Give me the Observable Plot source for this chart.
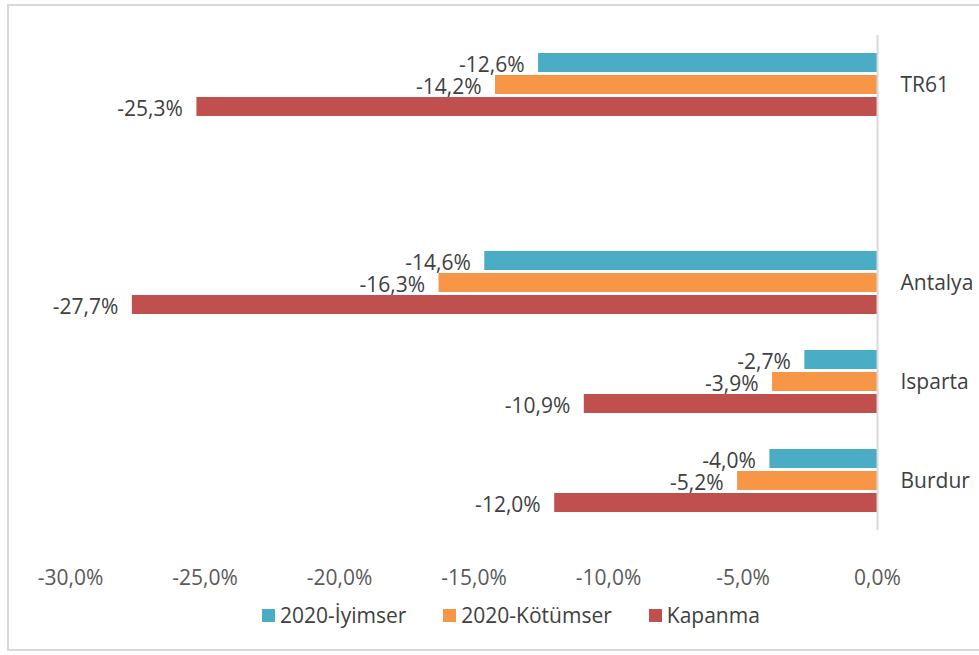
<!DOCTYPE html>
<html>
<head>
<meta charset="utf-8">
<script src="https://cdn.jsdelivr.net/npm/d3@7"></script>
<script src="https://cdn.jsdelivr.net/npm/@observablehq/plot@0.6"></script>
<style>
  html, body { margin: 0; padding: 0; background: #fff; }
  #wrap { position: relative; width: 979px; height: 655px; font-family: "Open Sans", sans-serif; overflow: hidden; }
  #border { position: absolute; left: 7px; top: 4px; width: 985px; height: 643px; border: 2px solid #d9d9d9; }
  #chart { position: absolute; left: 0; top: 0; }
  #legend { position: absolute; left: 262px; top: 601px; display: flex; align-items: center; font-size: 21px; color: #404040; }
  .item { display: flex; align-items: center; margin-right: 37px; }
  .sw { width: 13px; height: 13px; margin-right: 5px; }
</style>
</head>
<body>
<div id="wrap">
  <div id="border"></div>
  <div id="chart"></div>
  <div id="legend"></div>
</div>
<script>
// Categories (with a blank spacer row between TR61 and the provinces)
const categories = ["TR61", " ", "Antalya", "Isparta", "Burdur"];
const regions = ["TR61", "Antalya", "Isparta", "Burdur"];
const series = ["2020-İyimser", "2020-Kötümser", "Kapanma"];
const colors = ["#4BACC6", "#F79646", "#C0504D"];
// values (%) per region, in the order of `regions`
const iyimser  = [-12.6, -14.6, -2.7, -4.0];
const kotumser = [-14.2, -16.3, -3.9, -5.2];
const kapanma  = [-25.3, -27.7, -10.9, -12.0];
const xTicks = [-30, -25, -20, -15, -10, -5, 0];

const seriesValues = [iyimser, kotumser, kapanma];
const rows = [];
regions.forEach((r, i) => {
  series.forEach((s, j) => rows.push({region: r, series: s, value: seriesValues[j][i]}));
});

const fmt = v => v.toFixed(1).replace(".", ",") + "%";

const chart = Plot.plot({
  width: 979,
  height: 600,
  marginLeft: 70,
  marginRight: 102,
  marginTop: 33,
  marginBottom: 69,
  style: {fontFamily: "Open Sans, sans-serif", fontSize: "21px", background: "transparent", overflow: "visible"},
  x: {domain: [-30, 0]},
  y: {domain: series, axis: null, paddingInner: 0.13, paddingOuter: 0.72},
  fy: {domain: categories, padding: 0},
  color: {domain: series, range: colors},
  marks: [
    Plot.barX(rows, {x: "value", y: "series", fy: "region", fill: "series"}),
    Plot.ruleX(categories, {x: d => 0, fy: d => d, stroke: "#d9d9d9", strokeWidth: 2}),
    Plot.text(rows, {x: "value", y: "series", fy: "region", text: d => fmt(d.value), textAnchor: "end", dx: -14, dy: 2, fill: "#404040", fontSize: 21}),
    Plot.axisX({ticks: xTicks, tickFormat: fmt, tickSize: 0, tickPadding: 40, facetAnchor: "bottom", label: null, color: "#595959", fontSize: 21}),
    Plot.axisFy({anchor: "right", tickSize: 0, tickPadding: 23, label: null, color: "#404040", fontSize: 21})
  ]
});
document.getElementById("chart").appendChild(chart);

const legend = document.getElementById("legend");
series.forEach((s, i) => {
  const it = document.createElement("div");
  it.className = "item";
  const sw = document.createElement("div");
  sw.className = "sw";
  sw.style.background = colors[i];
  const t = document.createElement("span");
  t.textContent = s;
  it.appendChild(sw);
  it.appendChild(t);
  legend.appendChild(it);
});
</script>
</body>
</html>
